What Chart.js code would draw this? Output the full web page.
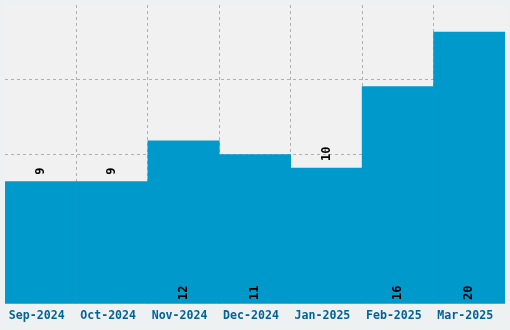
<!DOCTYPE html>
<html>
<head>
<meta charset="utf-8">
<script src="https://cdn.jsdelivr.net/npm/chart.js@4"></script>
<style>
    html, body { margin: 0; padding: 0; background: #eef1f2; }
    #wrap { width: 510px; height: 330px; }
</style>
</head>
<body>
<div id="wrap"><canvas id="chart" width="510" height="330"></canvas></div>
<script>
const months = ['Sep-2024', 'Oct-2024', 'Nov-2024', 'Dec-2024', 'Jan-2025', 'Feb-2025', 'Mar-2025'];
const counts = [9, 9, 12, 11, 10, 16, 20];
const yMax = 22;
const yStep = 5.5;

const monoFont = '"DejaVu Sans Mono", monospace';
const gridColor = 'rgba(0,0,0,0.27)';

// chart area background
const areaBg = {
    id: 'areaBg',
    beforeDraw(chart) {
        const { ctx, chartArea: a } = chart;
        ctx.save();
        ctx.fillStyle = '#f1f1f1';
        ctx.fillRect(a.left, a.top, a.right - a.left, a.bottom - a.top);
        ctx.restore();
    }
};

// rotated value labels: small bars above, big ones inside at the base
const valueLabels = {
    id: 'valueLabels',
    afterDraw(chart) {
        const ctx = chart.ctx;
        const meta = chart.getDatasetMeta(0);
        const yScale = chart.scales.y;
        ctx.save();
        ctx.font = 'bold 12px ' + monoFont;
        ctx.fillStyle = '#000';
        ctx.textBaseline = 'middle';
        ctx.textAlign = 'left';
        meta.data.forEach((bar, i) => {
            const v = counts[i];
            const start = v <= 10 ? bar.y - 7 : yScale.bottom - 4;
            ctx.save();
            ctx.translate(bar.x, 0);
            ctx.rotate(-Math.PI / 2);
            ctx.fillText(String(v), -start, 0);
            ctx.restore();
        });
        ctx.restore();
    }
};

new Chart('chart', {
    type: 'bar',
    data: {
        labels: months,
        datasets: [{
            data: counts,
            backgroundColor: '#0099cc',
            borderWidth: 0,
            barPercentage: 1,
            categoryPercentage: 1
        }]
    },
    options: {
        responsive: false,
        animation: false,
        layout: { padding: { top: 5, left: 5, right: 5, bottom: 0 } },
        plugins: { legend: { display: false }, tooltip: { enabled: false } },
        scales: {
            x: {
                z: 1,
                afterFit: (scale) => { scale.height = 26; },
                grid: {
                    offset: true,
                    color: (c) => (c.type !== 'tick' || c.index === 0) ? 'rgba(0,0,0,0)' : gridColor,
                    tickLength: 0
                },
                border: { display: false, dash: [3, 3] },
                ticks: {
                    color: '#00639c',
                    font: { family: monoFont, size: 11.6, weight: 'bold' },
                    padding: 5,
                    labelOffset: -4,
                    maxRotation: 0
                }
            },
            y: {
                z: 1,
                min: 0,
                max: yMax,
                ticks: { display: false, stepSize: yStep },
                grid: {
                    color: (c) => (c.type !== 'tick' || c.tick.value === 0 || c.tick.value === yMax) ? 'rgba(0,0,0,0)' : gridColor,
                    drawTicks: false
                },
                border: { display: false, dash: [3, 3] }
            }
        }
    },
    plugins: [areaBg, valueLabels]
});
</script>
</body>
</html>
